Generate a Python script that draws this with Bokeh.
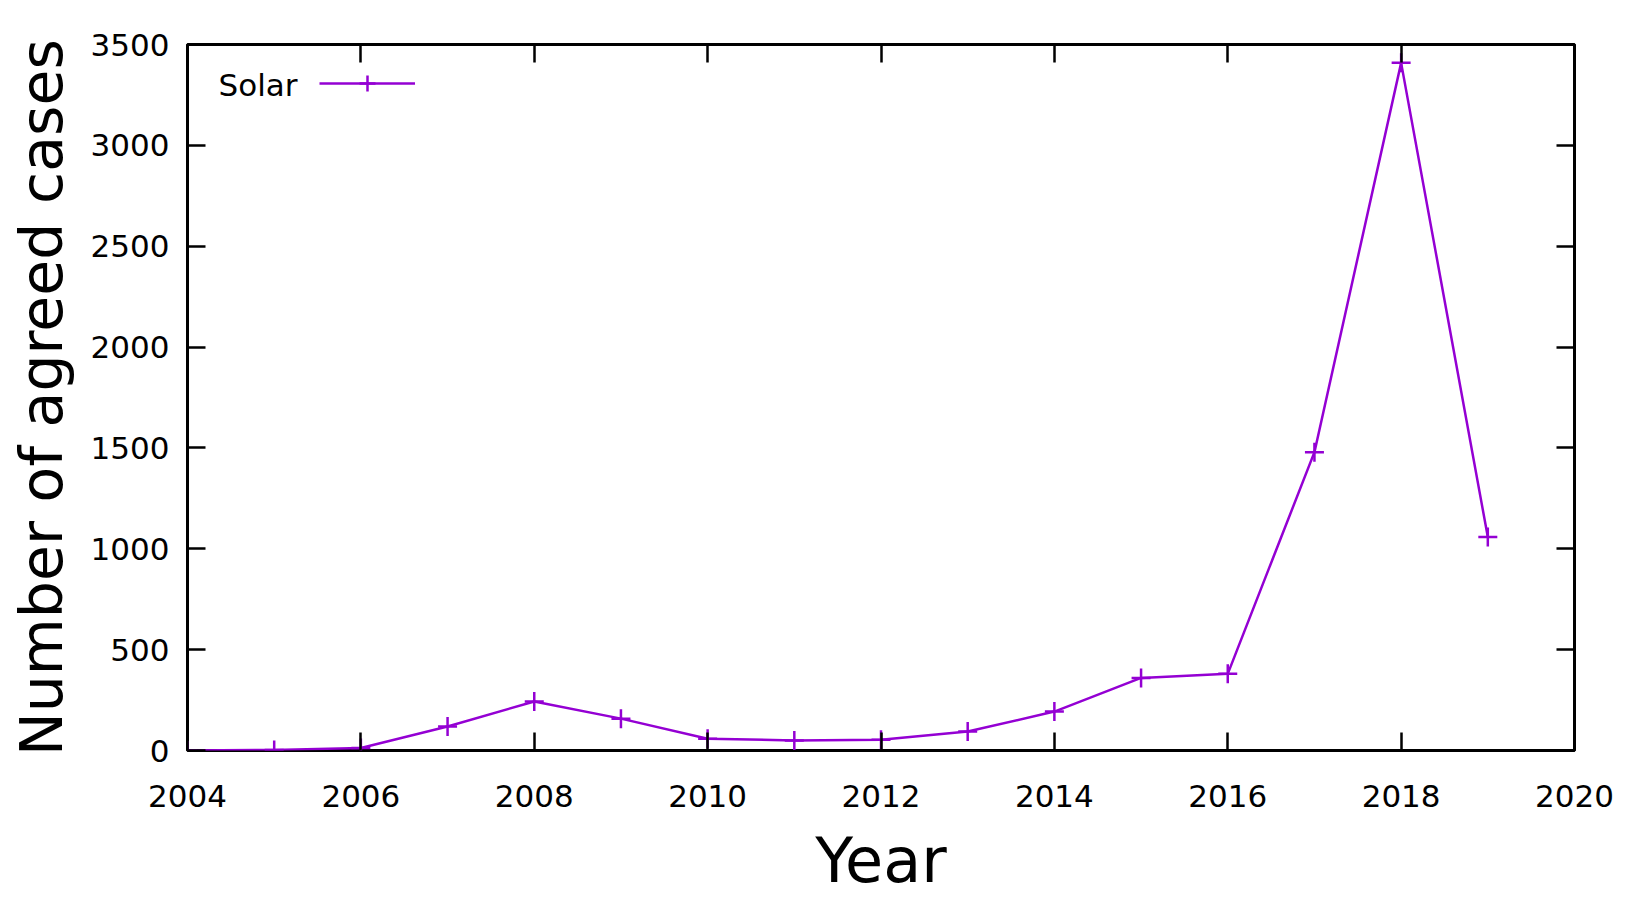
from bokeh.plotting import figure
from bokeh.models import (LinearAxis, Range1d, FixedTicker, Legend, LegendItem, Label)
from bokeh.embed import file_html
from bokeh.resources import INLINE

years = [2004, 2005, 2006, 2007, 2008, 2009, 2010, 2011, 2012, 2013,
         2014, 2015, 2016, 2017, 2018, 2019]
solar = [0, 3, 12, 119, 243, 158, 58, 50, 53, 94, 193, 360, 380, 1479, 3409, 1058]
x_ticks = [2004, 2006, 2008, 2010, 2012, 2014, 2016, 2018, 2020]
y_ticks = [0, 500, 1000, 1500, 2000, 2500, 3000, 3500]
series_name = "Solar"
x_title = "Year"
y_title = "Number of agreed cases"

FONT = "DejaVu Sans"
COLOR = "#9400D3"

p = figure(frame_width=1387, frame_height=706,
           min_border_left=187, min_border_right=60,
           min_border_top=44, min_border_bottom=158,
           x_range=Range1d(2004, 2020), y_range=Range1d(0, 3500),
           output_backend="svg", toolbar_location=None,
           background_fill_color="white", border_fill_color="white")

p.xgrid.visible = False
p.ygrid.visible = False
p.outline_line_color = "black"
p.outline_line_width = 3
p.outline_line_alpha = 1

for ax, ticks in ((p.xaxis[0], x_ticks), (p.yaxis[0], y_ticks)):
    ax.ticker = FixedTicker(ticks=ticks)
    ax.axis_line_color = None
    ax.major_tick_in = 18
    ax.major_tick_out = 0
    ax.major_tick_line_width = 2.5
    ax.minor_tick_line_color = None
    ax.major_label_text_font = FONT
    ax.major_label_text_font_size = "31px"
    ax.major_label_text_color = "black"
    ax.axis_label_text_font = FONT
    ax.axis_label_text_font_style = "normal"
    ax.axis_label_text_color = "black"

p.xaxis[0].axis_label = x_title
p.xaxis[0].axis_label_text_font_size = "62px"
p.xaxis[0].major_label_standoff = 34
p.xaxis[0].axis_label_standoff = 14

p.yaxis[0].axis_label = y_title
p.yaxis[0].axis_label_text_font_size = "58.5px"
p.yaxis[0].major_label_standoff = 18
p.yaxis[0].axis_label_standoff = 12

top = LinearAxis(ticker=FixedTicker(ticks=x_ticks), major_label_text_font_size="0px",
                 axis_line_color=None, major_tick_in=18, major_tick_out=0,
                 major_tick_line_width=2.5, minor_tick_line_color=None)
right = LinearAxis(ticker=FixedTicker(ticks=y_ticks), major_label_text_font_size="0px",
                   axis_line_color=None, major_tick_in=18, major_tick_out=0,
                   major_tick_line_width=2.5, minor_tick_line_color=None)
top.major_label_overrides = {t: "" for t in x_ticks}
right.major_label_overrides = {t: "" for t in y_ticks}
p.add_layout(top, "above")
p.add_layout(right, "right")

ln = p.line(years, solar, line_color=COLOR, line_width=2.5)
sc = p.scatter(years, solar, marker="cross", size=19, line_color=COLOR, line_width=2.5)

legend = Legend(items=[LegendItem(label="", renderers=[ln, sc])],
                location=(132, 647), glyph_width=96, glyph_height=40,
                label_width=0, label_height=20, label_standoff=0,
                padding=0, margin=0, spacing=0,
                border_line_color=None, background_fill_alpha=0)
p.add_layout(legend)

p.add_layout(Label(x=110, y=666, x_units="screen", y_units="screen", text=series_name,
                   text_align="right", text_baseline="alphabetic",
                   text_font=FONT, text_font_size="31px", text_color="black"))

open("out.html", "w").write(file_html(p, INLINE))
